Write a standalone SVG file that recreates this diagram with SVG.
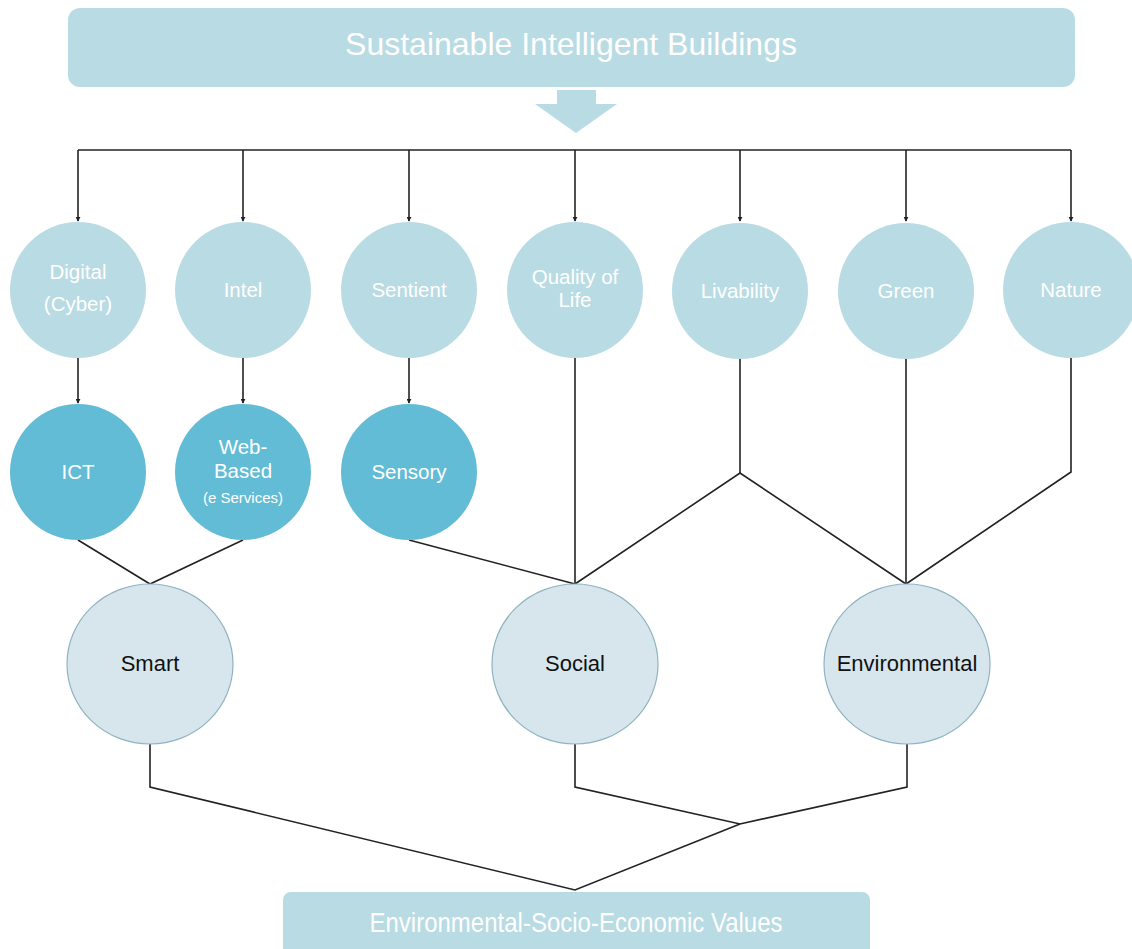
<svg xmlns="http://www.w3.org/2000/svg" width="1132" height="949" viewBox="0 0 1132 949">
<style>
.bar{fill:#b9dbe4}
.c1{fill:#b9dbe4}
.c2{fill:#63bcd6}
.c3{fill:#d7e6ed;stroke:#8fb3c0;stroke-width:1.2}
.wt{font-family:"Liberation Sans",Arial,sans-serif;fill:#ffffff;text-anchor:middle}
.r1{font-size:20.5px}
.bt{font-family:"Liberation Sans",Arial,sans-serif;fill:#111;text-anchor:middle;font-size:22px}
.ln{fill:none;stroke:#222;stroke-width:1.6}
</style>
<defs>
<marker id="ah" viewBox="0 0 6 6" refX="5" refY="3" markerWidth="5" markerHeight="5" orient="auto" markerUnits="userSpaceOnUse">
<path d="M0,0 L6,3 L0,6 z" fill="#222"/>
</marker>
</defs>
<rect width="1132" height="949" fill="#ffffff"/>
<g id="top">
<rect class="bar" x="68" y="8" width="1007" height="79" rx="12"/>
<text class="wt" x="571" y="55" font-size="32">Sustainable Intelligent Buildings</text>
</g>
<g id="bigarrow">
<polygon class="bar" points="557,90 596,90 596,104 617,104 576,133 535,104 557,104"/>
</g>
<g id="connectors">
<path class="ln" d="M78,150 H1071"/>
<path class="ln" d="M78,150 V221" marker-end="url(#ah)"/>
<path class="ln" d="M243,150 V221" marker-end="url(#ah)"/>
<path class="ln" d="M409,150 V221" marker-end="url(#ah)"/>
<path class="ln" d="M575,150 V221" marker-end="url(#ah)"/>
<path class="ln" d="M740,150 V221" marker-end="url(#ah)"/>
<path class="ln" d="M906,150 V221" marker-end="url(#ah)"/>
<path class="ln" d="M1071,150 V221" marker-end="url(#ah)"/>
<path class="ln" d="M78,358 V403" marker-end="url(#ah)"/>
<path class="ln" d="M243,358 V403" marker-end="url(#ah)"/>
<path class="ln" d="M409,358 V403" marker-end="url(#ah)"/>
<path class="ln" d="M78,540 L150,584 L243,540"/>
<path class="ln" d="M409,540 L575,584"/>
<path class="ln" d="M575,358 V584"/>
<path class="ln" d="M740,358 V473"/>
<path class="ln" d="M575,584 L740,473 L906,584"/>
<path class="ln" d="M906,358 V584"/>
<path class="ln" d="M1071,358 V472 L906,584"/>
<path class="ln" d="M150,744 V787 L575,890 L740,824"/>
<path class="ln" d="M575,744 V787 L740,824 L907,787 V744"/>
</g>
<g id="digital"><circle class="c1" cx="78" cy="290" r="68"/><text class="wt r1" x="78" y="279">Digital</text><text class="wt r1" x="78" y="311">(Cyber)</text></g>
<g id="intel"><circle class="c1" cx="243" cy="290" r="68"/><text class="wt r1" x="243" y="297">Intel</text></g>
<g id="sentient"><circle class="c1" cx="409" cy="290" r="68"/><text class="wt r1" x="409" y="297">Sentient</text></g>
<g id="quality"><circle class="c1" cx="575" cy="290" r="68"/><text class="wt r1" x="575" y="284">Quality of</text><text class="wt r1" x="575" y="307">Life</text></g>
<g id="livability"><circle class="c1" cx="740" cy="291" r="68"/><text class="wt r1" x="740" y="298">Livability</text></g>
<g id="green"><circle class="c1" cx="906" cy="291" r="68"/><text class="wt r1" x="906" y="298">Green</text></g>
<g id="nature"><circle class="c1" cx="1071" cy="290" r="68"/><text class="wt r1" x="1071" y="297">Nature</text></g>
<g id="ict"><circle class="c2" cx="78" cy="472" r="68"/><text class="wt r1" x="78" y="479">ICT</text></g>
<g id="webbased"><circle class="c2" cx="243" cy="472" r="68"/><text class="wt r1" x="243" y="454">Web-</text><text class="wt r1" x="243" y="478">Based</text><text class="wt" x="243" y="503" font-size="15">(e Services)</text></g>
<g id="sensory"><circle class="c2" cx="409" cy="472" r="68"/><text class="wt r1" x="409" y="479">Sensory</text></g>
<g id="smart"><ellipse class="c3" cx="150" cy="664" rx="83" ry="80"/><text class="bt" x="150" y="671">Smart</text></g>
<g id="social"><ellipse class="c3" cx="575" cy="664" rx="83" ry="80"/><text class="bt" x="575" y="671">Social</text></g>
<g id="environmental"><ellipse class="c3" cx="907" cy="664" rx="83" ry="80"/><text class="bt" x="907" y="671">Environmental</text></g>
<g id="values">
<rect class="bar" x="283" y="892" width="587" height="70" rx="8"/>
<text class="wt" transform="translate(576,932) scale(1,1.15)" x="0" y="0" font-size="24">Environmental-Socio-Economic Values</text>
</g>
</svg>
